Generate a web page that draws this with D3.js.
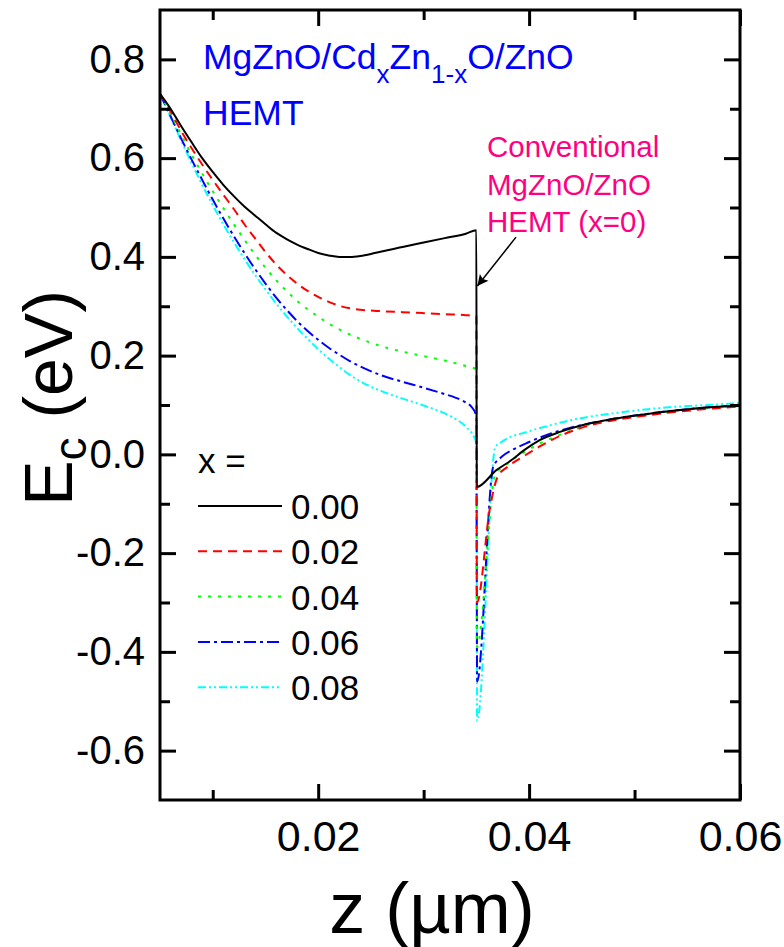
<!DOCTYPE html>
<html><head><meta charset="utf-8">
<script src="https://cdn.jsdelivr.net/npm/d3@7"></script>
<style>
html,body{margin:0;padding:0;background:#fff;}
text{font-family:"Liberation Sans",Arial,sans-serif;}
</style></head>
<body><svg id="c" width="784" height="947"></svg>
<script>
// ---- data ----
const seriesNames = ["0.00","0.02","0.04","0.06","0.08"];
const seriesColors = ["#000000","#ff0000","#00ff00","#0000ff","#00ffff"];
const seriesDash = [null,"9,6","3,7","12,4,3,4","8,3,2,3,2,3"];

const z0 = [0.005,0.006,0.007,0.008,0.009,0.010,0.011,0.012,0.013,0.014,0.015,0.016,0.017,0.018,0.019,0.020,0.021,0.022,0.023,0.024,0.025,0.026,0.028,0.030,0.032,0.034,0.035,
            0.03503,0.0369,0.0383,0.0395,0.041,0.043,0.0458,0.048,0.0505,0.053,0.0553,0.0575,0.060];
const E0 = [0.730,0.700,0.665,0.632,0.600,0.572,0.546,0.523,0.502,0.484,0.466,0.449,0.436,0.425,0.416,0.408,0.403,0.400,0.400,0.402,0.406,0.411,0.420,0.429,0.438,0.447,0.454,
            -0.066,-0.032,-0.012,0.008,0.029,0.046,0.063,0.072,0.080,0.087,0.092,0.096,0.099];

const z2 = [0.005,0.006,0.007,0.008,0.009,0.010,0.011,0.012,0.013,0.014,0.015,0.016,0.017,0.018,0.019,0.020,0.021,0.022,0.023,0.024,0.026,0.028,0.030,0.032,0.034,0.035,
            0.03505,0.0363,0.0370,0.0379,0.039,0.040,0.041,0.043,0.0458,0.048,0.0505,0.053,0.0553,0.0575,0.060];
const E2 = [0.730,0.695,0.655,0.620,0.587,0.556,0.526,0.497,0.466,0.438,0.410,0.385,0.364,0.346,0.331,0.319,0.309,0.301,0.296,0.293,0.290,0.288,0.286,0.284,0.282,0.280,
            -0.300,-0.107,-0.046,-0.026,-0.010,0.003,0.016,0.038,0.059,0.069,0.077,0.084,0.089,0.093,0.097];

const z4 = [0.005,0.006,0.007,0.008,0.009,0.010,0.011,0.012,0.013,0.014,0.015,0.016,0.017,0.018,0.019,0.020,0.021,0.022,0.024,0.026,0.028,0.030,0.032,0.034,0.035,
            0.03505,0.0368,0.0376,0.0385,0.040,0.041,0.043,0.0458,0.048,0.0505,0.053,0.0553,0.0575,0.060];
const E4 = [0.730,0.690,0.648,0.607,0.569,0.533,0.499,0.466,0.435,0.405,0.378,0.353,0.331,0.311,0.294,0.279,0.265,0.253,0.234,0.219,0.208,0.199,0.190,0.179,0.172,
            -0.390,-0.040,-0.025,-0.010,0.010,0.022,0.040,0.061,0.071,0.079,0.086,0.091,0.095,0.098];

const z6 = [0.005,0.006,0.007,0.008,0.009,0.010,0.011,0.012,0.013,0.014,0.015,0.016,0.017,0.018,0.019,0.020,0.021,0.022,0.023,0.024,0.026,0.028,0.030,0.032,0.033,0.034,0.0345,0.035,
            0.03507,0.0366,0.0374,0.0385,0.040,0.042,0.0441,0.046,0.048,0.0505,0.053,0.0553,0.0575,0.060];
const E6 = [0.730,0.685,0.640,0.597,0.556,0.516,0.478,0.442,0.408,0.376,0.346,0.318,0.293,0.270,0.250,0.232,0.216,0.202,0.189,0.178,0.160,0.147,0.135,0.122,0.115,0.105,0.097,0.078,
            -0.460,-0.025,-0.005,0.010,0.025,0.042,0.055,0.064,0.072,0.080,0.087,0.092,0.096,0.099];

const z8 = [0.005,0.006,0.007,0.008,0.009,0.010,0.011,0.012,0.013,0.014,0.015,0.016,0.017,0.018,0.019,0.020,0.021,0.022,0.023,0.024,0.025,0.026,0.028,0.030,0.032,0.033,0.034,0.035,
            0.03507,0.0368,0.0373,0.038,0.0394,0.0415,0.0441,0.0462,0.0483,0.051,0.0536,0.057,0.060];
const E8 = [0.730,0.683,0.636,0.590,0.546,0.505,0.466,0.430,0.396,0.364,0.334,0.306,0.280,0.256,0.234,0.213,0.194,0.177,0.161,0.148,0.137,0.128,0.113,0.099,0.083,0.072,0.056,0.024,
            -0.540,0.015,0.024,0.033,0.043,0.056,0.070,0.078,0.084,0.091,0.096,0.100,0.104];

const seriesZ = [z0,z2,z4,z6,z8];
const seriesE = [E0,E2,E4,E6,E8];

const xMajor = [0.02,0.04,0.06];
const xMinor = [0.01,0.03,0.05];
const yMajor = [-0.6,-0.4,-0.2,0.0,0.2,0.4,0.6,0.8];
const yMinor = [-0.5,-0.3,-0.1,0.1,0.3,0.5,0.7];

// ---- layout ----
const L=160, R=740, T=10, B=800;
const svg = d3.select("#c");
const x = d3.scaleLinear().domain([0.005,0.06]).range([L,R]);
const y = d3.scaleLinear().domain([-0.7,0.9]).range([B,T]);

// curves
svg.append("clipPath").attr("id","clp").append("rect")
  .attr("x",L).attr("y",T).attr("width",R-L).attr("height",B-T);
const line = d3.line().x(d=>x(d[0])).y(d=>y(d[1])).curve(d3.curveMonotoneX);
const g = svg.append("g").attr("clip-path","url(#clp)");
for (let i=seriesNames.length-1;i>=0;i--){
  const pts = seriesZ[i].map((z,k)=>[z,seriesE[i][k]]);
  g.append("path").attr("d",line(pts)).attr("fill","none")
   .attr("stroke",seriesColors[i]).attr("stroke-width",2)
   .attr("stroke-dasharray",seriesDash[i]);
}

// axes
function styleAxis(sel){
  sel.select(".domain").remove();
  sel.selectAll(".tick line").attr("stroke","#000").attr("stroke-width",3);
}
const fmt = v => d3.format(".1f")(v).replace("\u2212","-");
svg.append("g").attr("transform",`translate(${L},0)`)
  .call(d3.axisLeft(y).tickValues(yMajor).tickSize(-16).tickPadding(15).tickFormat(fmt))
  .call(styleAxis).selectAll("text").attr("font-size",40).attr("fill","#000")
  .attr("font-family","Liberation Sans, Arial, sans-serif");
svg.append("g").attr("transform",`translate(${L},0)`)
  .call(d3.axisLeft(y).tickValues(yMinor).tickSize(-10).tickFormat(""))
  .call(styleAxis);
svg.append("g").attr("transform",`translate(${R},0)`)
  .call(d3.axisRight(y).tickValues(yMajor).tickSize(-16).tickFormat(""))
  .call(styleAxis);
svg.append("g").attr("transform",`translate(${R},0)`)
  .call(d3.axisRight(y).tickValues(yMinor).tickSize(-10).tickFormat(""))
  .call(styleAxis);
svg.append("g").attr("transform",`translate(0,${B})`)
  .call(d3.axisBottom(x).tickValues(xMajor).tickSize(-16).tickPadding(20).tickFormat(d3.format(".2f")))
  .call(styleAxis).selectAll("text").attr("font-size",43).attr("fill","#000")
  .attr("font-family","Liberation Sans, Arial, sans-serif");
svg.append("g").attr("transform",`translate(0,${B})`)
  .call(d3.axisBottom(x).tickValues(xMinor).tickSize(-10).tickFormat(""))
  .call(styleAxis);
svg.append("g").attr("transform",`translate(0,${T})`)
  .call(d3.axisTop(x).tickValues(xMajor).tickSize(-16).tickFormat(""))
  .call(styleAxis);
svg.append("g").attr("transform",`translate(0,${T})`)
  .call(d3.axisTop(x).tickValues(xMinor).tickSize(-10).tickFormat(""))
  .call(styleAxis);

svg.append("rect").attr("x",L).attr("y",T).attr("width",R-L).attr("height",B-T)
  .attr("fill","none").attr("stroke","#000").attr("stroke-width",3);

// axis titles
svg.append("text").attr("x",432).attr("y",933).attr("text-anchor","middle")
  .attr("font-size",72).attr("fill","#000").text("z (\u00b5m)");
const yt = svg.append("text").attr("transform","translate(72,398) rotate(-90)")
  .attr("text-anchor","middle").attr("font-size",68).attr("fill","#000");
yt.append("tspan").text("E");
yt.append("tspan").attr("font-size",46).attr("dy",14).text("c");
yt.append("tspan").attr("dy",-14).text(" (eV)");

// blue annotation
const bt = svg.append("text").attr("x",203).attr("y",69).attr("font-size",35.5).attr("fill","#0000ff");
bt.append("tspan").text("MgZnO/Cd");
bt.append("tspan").attr("font-size",26).attr("dy",14).text("x");
bt.append("tspan").attr("dy",-14).text("Zn");
bt.append("tspan").attr("font-size",26).attr("dy",14).text("1-x");
bt.append("tspan").attr("dy",-14).text("O/ZnO");
svg.append("text").attr("x",203).attr("y",125).attr("font-size",35.5).attr("fill","#0000ff").text("HEMT");

// pink annotation
const pink = "#ff0080";
["Conventional","MgZnO/ZnO","HEMT (x=0)"].forEach((s,i)=>{
  svg.append("text").attr("x",487).attr("y",157+i*37.5).attr("font-size",29.5)
    .attr("fill",pink).text(s);
});
// arrow
svg.append("defs").append("marker").attr("id","ah").attr("viewBox","0 0 10 10")
  .attr("refX",10).attr("refY",5).attr("markerWidth",18).attr("markerHeight",11)
  .attr("markerUnits","userSpaceOnUse").attr("orient","auto")
  .append("path").attr("d","M0,0 L10,5 L0,10 L2,5 z").attr("fill","#000");
svg.append("line").attr("x1",x(0.03876)).attr("y1",y(0.44)).attr("x2",x(0.0350)+1).attr("y2",y(0.341))
  .attr("stroke","#000").attr("stroke-width",1.5).attr("marker-end","url(#ah)");

// legend
svg.append("text").attr("x",198).attr("y",473).attr("font-size",35).attr("fill","#000").text("x =");
seriesNames.forEach((s,i)=>{
  const yy = 506 + i*45.3;
  svg.append("line").attr("x1",198).attr("x2",282).attr("y1",yy).attr("y2",yy)
    .attr("stroke",seriesColors[i]).attr("stroke-width",2).attr("stroke-dasharray",seriesDash[i]);
  svg.append("text").attr("x",291).attr("y",yy+13).attr("font-size",35).attr("fill","#000").text(s);
});
</script></body></html>
